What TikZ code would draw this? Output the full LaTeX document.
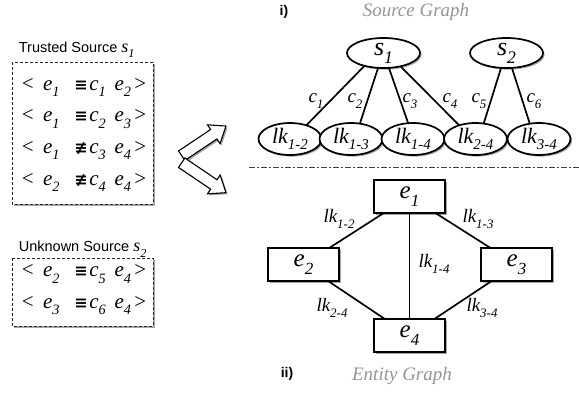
\documentclass[tikz,border=0pt]{standalone}
\usepackage{fontspec}
\setmainfont{Liberation Serif}
\setsansfont{Liberation Sans}
\newfontfamily\symf{DejaVu Sans}
\usetikzlibrary{shapes.geometric,shadows,calc}
\newcommand\lo[1]{\raisebox{-0.3em}{\scalebox{0.68}{\itshape #1}}}
\newcommand\lk[1]{\textit{lk}\lo{#1}}
\newcommand\rowt[4]{<\hspace{0.45em}\textit{e}\lo{#1}\hspace{0.7em}{\symf\bfseries\fontsize{16}{16}\selectfont #2}\hspace{0.08em}\textit{c}\lo{#3}\hspace{0.42em}\textit{e}\lo{#4}\hspace{0.15em}>}
\begin{document}
\begin{tikzpicture}[x=1pt,y=-1pt,line width=1.7pt,
  shad/.style={drop shadow={shadow xshift=1.6pt,shadow yshift=-1.6pt,opacity=0.35,fill=black}},
  srcnode/.style={ellipse,draw,fill=white,inner sep=0pt,outer sep=0pt,shad,minimum width=73pt,minimum height=30pt,font=\fontsize{26}{26}\selectfont\itshape},
  lknode/.style={ellipse,draw,fill=white,inner sep=0pt,outer sep=0pt,shad,minimum width=63pt,minimum height=32pt,font=\fontsize{22}{22}\selectfont\itshape},
  entnode/.style={rectangle,draw,fill=white,inner sep=0pt,outer sep=0pt,shad,minimum width=71pt,minimum height=33pt,font=\fontsize{25}{25}\selectfont\itshape},
  elabel/.style={inner sep=0pt,font=\fontsize{19}{19}\selectfont\itshape},
  rowtext/.style={anchor=base west,inner sep=0pt,font=\fontsize{21}{21}\selectfont},
  sanslabel/.style={anchor=base west,inner sep=0pt,font=\sffamily\fontsize{14.5}{14.5}\selectfont},
  title/.style={inner sep=0pt,text=black!42,font=\fontsize{19}{19}\selectfont\itshape},
  srcbox/.style={draw=black!85,dashed,dash pattern=on 3pt off 2pt,line width=0.85pt,fill=white,shad},
  blockarrow/.style={draw,fill=white,line width=1.1pt,line join=miter,shad}
]
\useasboundingbox (0,0) rectangle (579,392);

% ---------- left: sources ----------
\node[sanslabel] (t1) at (18,52) {Trusted Source {\rmfamily\itshape\fontsize{18}{18}\selectfont s\lo{1}}};
\draw[srcbox] (12,62) rectangle (153,204);
\node[rowtext] (r1) at (21,90) {\rowt{1}{≡}{1}{2}};
\node[rowtext] (r2) at (21,121.7) {\rowt{1}{≡}{2}{3}};
\node[rowtext] (r3) at (21,153.3) {\rowt{1}{≢}{3}{4}};
\node[rowtext] (r4) at (21,185) {\rowt{2}{≢}{4}{4}};

\node[sanslabel] (t2) at (18,251.7) {Unknown Source {\rmfamily\itshape\fontsize{18}{18}\selectfont s\lo{2}}};
\draw[srcbox] (12,258) rectangle (153,326);
\node[rowtext] (r5) at (21,276.7) {\rowt{2}{≡}{5}{4}};
\node[rowtext] (r6) at (21,308.3) {\rowt{3}{≡}{6}{4}};

% ---------- block arrows ----------
\begin{scope}[shift={(181.7,155.7)},rotate=33.8]
  \path[blockarrow] (0,-5.7) -- (38.6,-5.7) -- (38.6,-11.3) -- (53.3,0) -- (38.6,11.3) -- (38.6,5.7) -- (0,5.7) -- cycle;
\end{scope}
\begin{scope}[shift={(181.7,162.7)},rotate=-34.1]
  \path[blockarrow] (0,-5.7) -- (38.8,-5.7) -- (38.8,-11.3) -- (53.5,0) -- (38.8,11.3) -- (38.8,5.7) -- (0,5.7) -- cycle;
\end{scope}

% ---------- i) source graph ----------
\node[inner sep=0pt,font=\sffamily\bfseries\fontsize{14}{14}\selectfont] (lab1) at (284,12) {i)};
\node[title] (tt1) at (416,12) {Source Graph};

\node[srcnode] (s1) at (383.5,53) {s\lo{1}};
\node[srcnode] (s2) at (506.5,53) {s\lo{2}};
\node[lknode] (lk12) at (290,139) {\lk{1-2}};
\node[lknode] (lk13) at (351,139) {\lk{1-3}};
\node[lknode] (lk14) at (413,139) {\lk{1-4}};
\node[lknode] (lk24) at (475.5,139) {\lk{2-4}};
\node[lknode] (lk34) at (539,139) {\lk{3-4}};

\draw (s1.214) -- (lk12.40);
\draw (s1.250) -- (lk13.60);
\draw (s1.290) -- (lk14.107);
\draw (s1.322) -- (lk24.140);
\draw (s2.250) -- (lk24.62);
\draw (s2.290) -- (lk34.121);

\node[elabel] (c1) at (316,101) {c\lo{1}};
\node[elabel] (c2) at (355,101) {c\lo{2}};
\node[elabel] (c3) at (410,101) {c\lo{3}};
\node[elabel] (c4) at (450,101) {c\lo{4}};
\node[elabel] (c5) at (479,101) {c\lo{5}};
\node[elabel] (c6) at (534,101) {c\lo{6}};

% ---------- separator ----------
\coordinate (sepL) at (249,167);
\coordinate (sepR) at (579,167);
\draw[line width=0.9pt,black!75,dash pattern=on 6pt off 2pt on 2pt off 2pt] (sepL) -- (sepR);

% ---------- ii) entity graph ----------
\node[entnode] (e1) at (409.5,196.5) {e\lo{1}};
\node[entnode] (e2) at (303.5,264.5) {e\lo{2}};
\node[entnode] (e3) at (516.5,264.5) {e\lo{3}};
\node[entnode] (e4) at (409.5,335.5) {e\lo{4}};

\draw (e1) -- (e2);
\draw (e1) -- (e3);
\draw (e1) -- (e4);
\draw (e2) -- (e4);
\draw (e3) -- (e4);

\node[elabel] (l12) at (339,219) {\lk{1-2}};
\node[elabel] (l13) at (478,219) {\lk{1-3}};
\node[elabel] (l14) at (434,264) {\lk{1-4}};
\node[elabel] (l24) at (332,308) {\lk{2-4}};
\node[elabel] (l34) at (482,308) {\lk{3-4}};

\node[inner sep=0pt,font=\sffamily\bfseries\fontsize{14}{14}\selectfont] (lab2) at (287,374) {ii)};
\node[title] (tt2) at (402,376) {Entity Graph};
\end{tikzpicture}
\end{document}
